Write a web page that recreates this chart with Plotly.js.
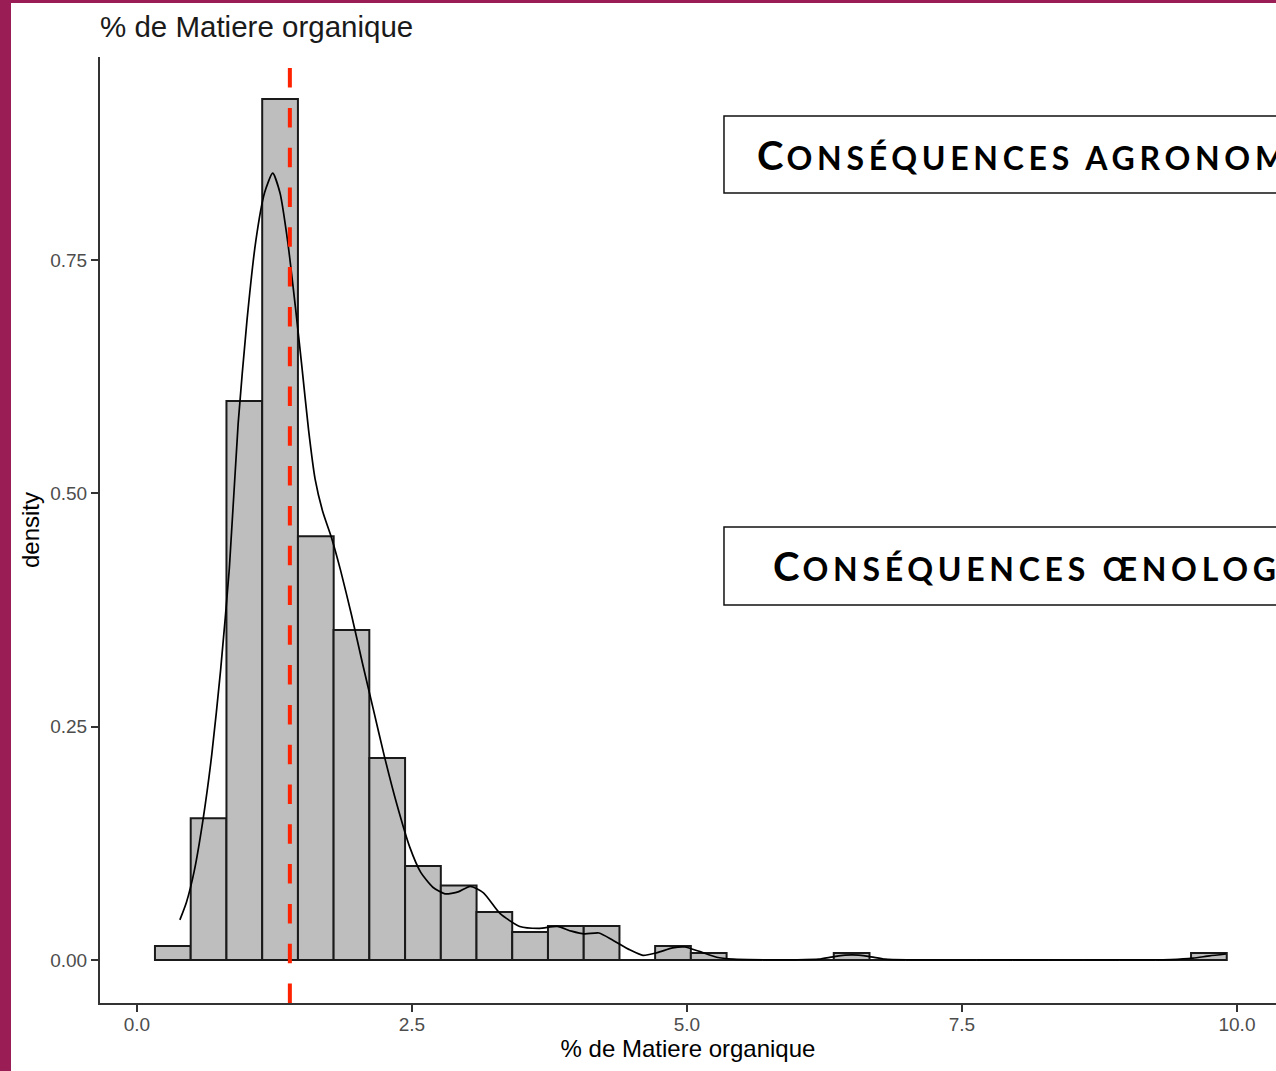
<!DOCTYPE html>
<html>
<head>
<meta charset="utf-8">
<script src="https://cdn.plot.ly/plotly-3.0.1.min.js"></script>
<style>
  html, body { margin: 0; padding: 0; background: #9b1d56; overflow: hidden; }
  #chart { position: absolute; left: 11px; top: 3px; width: 1265px; height: 1068px; background: #ffffff; }
</style>
</head>
<body>
<div id="chart"></div>
<script>
// ---- Histogram (density scale), 30 bins ----
const binCenters = [0.326, 0.651, 0.976, 1.301, 1.626, 1.950, 2.275, 2.600, 2.925, 3.249,
                    3.574, 3.899, 4.224, 4.549, 4.873, 5.198, 5.523, 5.848, 6.172, 6.497,
                    6.822, 7.147, 7.472, 7.796, 8.121, 8.446, 8.771, 9.096, 9.420, 9.745];
const binWidth = 0.3248;
const binDensity = [0.015, 0.152, 0.599, 0.9225, 0.454, 0.3536, 0.2164, 0.1007, 0.080, 0.0514,
                    0.030, 0.0364, 0.0364, 0, 0.015, 0.0075, 0, 0, 0, 0.0075,
                    0, 0, 0, 0, 0, 0, 0, 0, 0, 0.0075];

// ---- Kernel density curve ----
const kdeX = [0.39, 0.45, 0.52, 0.60, 0.68, 0.76, 0.84, 0.92, 1.00, 1.08, 1.16, 1.234,
              1.30, 1.37, 1.44, 1.50, 1.56, 1.62, 1.69, 1.77, 1.85, 1.95, 2.05, 2.15,
              2.25, 2.36, 2.48, 2.58, 2.69, 2.80, 2.92, 3.03, 3.15, 3.30, 3.48, 3.66,
              3.82, 3.95, 4.07, 4.20, 4.33, 4.48, 4.60, 4.73, 4.87, 4.98, 5.12, 5.27,
              5.42, 5.70, 6.00, 6.20, 6.35, 6.50, 6.65, 6.80, 7.00, 8.00, 9.00, 9.40,
              9.60, 9.75, 9.90];
const kdeY = [0.043, 0.062, 0.095, 0.150, 0.220, 0.310, 0.420, 0.575, 0.685, 0.770, 0.822, 0.843,
              0.822, 0.770, 0.700, 0.635, 0.568, 0.515, 0.480, 0.452, 0.418, 0.370, 0.318, 0.268,
              0.218, 0.168, 0.121, 0.094, 0.078, 0.071, 0.073, 0.079, 0.072, 0.050, 0.036, 0.034,
              0.036, 0.031, 0.028, 0.029, 0.021, 0.011, 0.005, 0.008, 0.013, 0.014, 0.009, 0.003,
              0.001, 0.0003, 0.0003, 0.001, 0.004, 0.0055, 0.004, 0.001, 0.0002, 0.0001, 0.0001, 0.0005,
              0.002, 0.0045, 0.0065];

// ---- Reference line (mean) ----
const meanValue = 1.39;

// ---- Ticks & texts ----
const xTickVals = [0, 2.5, 5, 7.5, 10];
const xTickText = ['0.0', '2.5', '5.0', '7.5', '10.0'];
const yTickVals = [0, 0.25, 0.5, 0.75];
const yTickText = ['0.00', '0.25', '0.50', '0.75'];
const titleText = '% de Matiere organique';
const xTitleText = '% de Matiere organique';
const yTitleText = 'density';
const box1Text = 'Conséquences agronomiques';
const box2Text = 'Conséquences œnologiques';

function smallCaps(s) {
  const first = s.charAt(0).toUpperCase();
  const rest = s.slice(1).toUpperCase();
  return '<span style="font-size:40px;letter-spacing:3px">' + first + '</span>' +
         '<span style="font-size:32px;letter-spacing:4.7px">' + rest + '</span>';
}

const traces = [
  {
    type: 'bar',
    x: binCenters,
    y: binDensity,
    width: binCenters.map(() => binWidth),
    marker: { color: '#bebebe', line: { color: '#1a1a1a', width: 2 } },
    hoverinfo: 'x+y',
    showlegend: false
  },
  {
    type: 'scatter',
    mode: 'lines',
    x: kdeX,
    y: kdeY,
    line: { color: '#000000', width: 1.7, shape: 'spline', smoothing: 0.6 },
    showlegend: false
  }
];

const tickFont = { family: 'Liberation Sans, Arial, sans-serif', size: 19, color: '#4d4d4d' };

const layout = {
  width: 1265,
  height: 1068,
  margin: { l: 89, r: 0, t: 54, b: 68 },
  paper_bgcolor: '#ffffff',
  plot_bgcolor: '#ffffff',
  bargap: 0,
  showlegend: false,
  font: { family: 'Liberation Sans, Arial, sans-serif', color: '#000000' },
  title: {
    text: titleText,
    font: { family: 'Liberation Sans, Arial, sans-serif', size: 29.5, color: '#1a1a1a' },
    xref: 'paper', x: 0, xanchor: 'left',
    yref: 'container', y: 0.9775, yanchor: 'middle'
  },
  xaxis: {
    range: [-0.336, 10.355],
    tickvals: xTickVals,
    ticktext: xTickText,
    ticks: 'outside', ticklen: 7, tickwidth: 2, tickcolor: '#333333',
    tickfont: tickFont,
    ticklabelstandoff: -4,
    showline: true, linecolor: '#333333', linewidth: 2,
    showgrid: false, zeroline: false,
    title: { text: xTitleText, font: { family: 'Liberation Sans, Arial, sans-serif', size: 24, color: '#000000' }, standoff: 5 },
    automargin: false
  },
  yaxis: {
    range: [-0.046, 0.9675],
    tickvals: yTickVals,
    ticktext: yTickText,
    ticks: 'outside', ticklen: 7, tickwidth: 2, tickcolor: '#333333',
    tickfont: tickFont,
    showline: true, linecolor: '#333333', linewidth: 2,
    showgrid: false, zeroline: false,
    title: { text: yTitleText, font: { family: 'Liberation Sans, Arial, sans-serif', size: 24, color: '#000000' }, standoff: 4 },
    automargin: false
  },
  shapes: [
    {
      type: 'line', xref: 'x', yref: 'paper',
      x0: meanValue, x1: meanValue, y0: 0, y1: 1,
      line: { color: '#ff2200', width: 4, dash: '19.5px,20.3px' },
      layer: 'above'
    },
    {
      type: 'rect', xref: 'paper', yref: 'paper',
      x0: 0.5306, x1: 1.05, y0: 0.8562, y1: 0.9376,
      line: { color: '#111111', width: 1.5 }, fillcolor: 'rgba(255,255,255,1)',
      layer: 'above'
    },
    {
      type: 'rect', xref: 'paper', yref: 'paper',
      x0: 0.5306, x1: 1.05, y0: 0.4207, y1: 0.5032,
      line: { color: '#111111', width: 1.5 }, fillcolor: 'rgba(255,255,255,1)',
      layer: 'above'
    }
  ],
  annotations: [
    {
      xref: 'paper', yref: 'paper', x: 0.557, y: 0.8969,
      xanchor: 'left', yanchor: 'middle', showarrow: false,
      text: smallCaps(box1Text),
      font: { family: 'Lato, Open Sans, sans-serif', size: 32, color: '#000000', weight: 700 }
    },
    {
      xref: 'paper', yref: 'paper', x: 0.5706, y: 0.4620,
      xanchor: 'left', yanchor: 'middle', showarrow: false,
      text: smallCaps(box2Text),
      font: { family: 'Lato, Open Sans, sans-serif', size: 32, color: '#000000', weight: 700 }
    }
  ]
};

Plotly.newPlot('chart', traces, layout, { displayModeBar: false, staticPlot: true });
</script>
</body>
</html>
